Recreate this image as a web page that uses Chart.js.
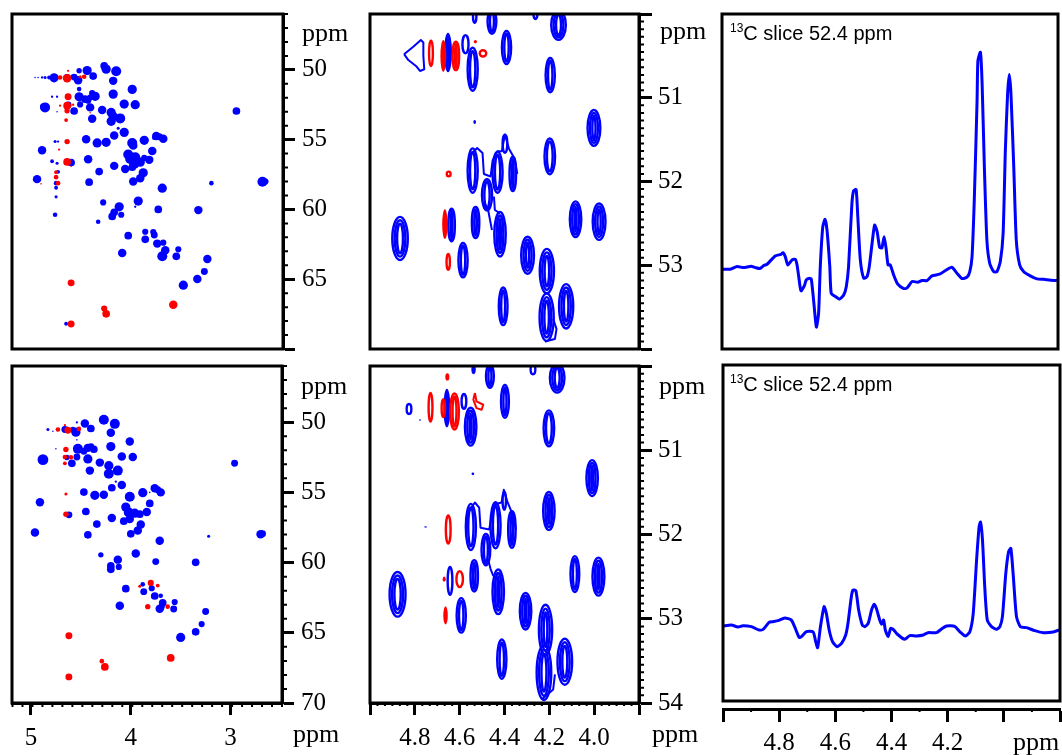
<!DOCTYPE html>
<html>
<head>
<meta charset="utf-8">
<script src="https://cdn.jsdelivr.net/npm/chart.js@4"></script>
<style>
  html, body { margin: 0; background: #fff; width: 1062px; height: 755px; overflow: hidden; }
  canvas { position: absolute; left: 0; top: 0; }
  .ppm { position: absolute; font: 26px/26px "Liberation Serif", serif; color: #000; }
  .slice { position: absolute; font: 20px/24px "Liberation Sans", sans-serif; color: #000; white-space: nowrap; }
  .slice sup { font-size: 12px; line-height: 0; vertical-align: 8px; }
</style>
</head>
<body>
<canvas id="topLeft" width="1062" height="755"></canvas>
<canvas id="topMid" width="1062" height="755"></canvas>
<canvas id="topRight" width="1062" height="755"></canvas>
<canvas id="botLeft" width="1062" height="755"></canvas>
<canvas id="botMid" width="1062" height="755"></canvas>
<canvas id="botRight" width="1062" height="755"></canvas>

<div class="ppm" style="left:302px;top:20px">ppm</div>
<div class="ppm" style="left:660px;top:18px">ppm</div>
<div class="ppm" style="left:301px;top:373px">ppm</div>
<div class="ppm" style="left:659px;top:373px">ppm</div>
<div class="ppm" style="left:293px;top:721px">ppm</div>
<div class="ppm" style="left:652px;top:721px">ppm</div>
<div class="ppm" style="left:1013px;top:729px">ppm</div>
<div class="slice" style="left:730px;top:21px"><sup>13</sup>C slice 52.4 ppm</div>
<div class="slice" style="left:730px;top:372px"><sup>13</sup>C slice 52.4 ppm</div>

<script>
// ================================
// DATA (ppm values)
// ================================

// full spectrum peaks: [1H ppm, 13C ppm, level]
const topBlue = [[4.27,49.71,10],[4.25,49.95,12],[4.15,50.10,13],[4.44,50.05,12],[4.52,50.07,7],[4.38,50.45,10],[4.57,50.52,9],[4.53,50.74,11],[4.18,50.79,11],[3.99,51.40,12],[4.18,51.74,12],[4.77,50.57,12],[4.82,50.55,5],[4.86,50.55,4],[4.89,50.55,3],[4.93,50.55,2],[4.96,50.55,2],[4.64,50.57,10],[4.52,51.38,6],[4.52,51.93,12],[4.46,52.10,10],[4.41,51.98,8],[4.36,51.90,12],[4.39,51.67,8],[4.43,52.21,8],[4.51,52.48,8],[4.41,52.69,11],[4.63,52.52,9],[4.57,52.95,10],[4.07,52.45,12],[3.96,52.50,12],[4.86,52.69,13],[4.88,52.64,8],[4.29,52.88,11],[4.20,53.05,12],[4.18,53.33,12],[4.11,53.48,13],[4.20,53.69,12],[4.39,53.50,11],[4.79,51.93,3],[4.74,51.93,3],[4.74,53.0,2],[4.13,54.19,4],[4.07,54.48,12],[4.17,54.71,11],[2.95,52.95,10],[4.45,54.98,11],[4.34,55.24,12],[4.25,55.19,12],[3.99,55.24,13],[3.98,55.43,11],[3.87,55.05,12],[3.75,54.74,11],[3.72,54.79,9],[3.68,54.93,11],[3.77,54.86,6],[4.76,55.14,4],[4.73,55.14,3],[4.89,55.76,11],[3.79,55.81,11],[4.03,56.07,13],[4.01,56.38,13],[3.96,56.26,13],[3.91,56.62,12],[3.82,56.45,11],[3.97,56.74,13],[4.06,57.10,11],[3.99,56.98,10],[3.87,56.31,8],[4.43,56.40,11],[4.17,56.88,11],[4.60,56.64,10],[4.79,56.55,5],[4.74,56.69,4],[4.32,57.29,10],[3.88,57.38,12],[3.91,57.76,11],[4.73,57.31,5],[4.94,57.83,11],[4.42,58.05,10],[3.98,58.0,11],[2.69,58.02,13],[2.66,58.0,8],[3.20,58.12,6],[4.75,58.12,6],[4.75,58.45,5],[3.69,58.48,12],[4.75,59.10,4],[4.28,59.5,8],[3.93,59.40,12],[3.96,59.81,3],[4.12,59.81,12],[3.73,60.0,10],[3.33,60.05,11],[4.17,60.21,10],[4.10,60.38,8],[4.19,60.5,10],[4.76,60.38,6],[4.33,60.88,6],[3.86,61.6,8],[3.78,61.62,8],[3.77,61.83,9],[4.03,61.88,10],[3.86,62.14,10],[3.74,62.45,11],[3.68,62.38,8],[3.66,62.93,11],[3.53,62.86,8],[4.09,63.12,11],[3.69,63.36,13],[3.55,63.36,10],[3.24,63.55,11],[3.27,64.45,9],[3.34,64.98,11],[3.48,65.43,12],[4.65,68.19,5]];
const topRed = [[4.60,65.26,9],[3.58,66.83,11],[4.27,67.10,8],[4.25,67.48,10],[4.60,68.21,9],[4.63,50.07,3],[4.71,50.55,6],[4.64,50.6,11],[4.47,50.5,6],[4.51,50.5,4],[4.63,51.93,9],[4.64,52.57,10],[4.64,52.93,7],[4.71,52.57,3],[4.58,52.5,3],[4.65,53.6,5],[4.64,55.14,7],[4.72,55.71,3],[4.64,56.6,10],[4.60,56.9,2],[4.75,57.33,5],[4.75,57.69,6],[4.73,58.12,6],[4.90,58.17,2],[4.41,53.07,2]];
const botBlue = [[4.27,49.83,13],[4.16,50.12,13],[4.46,50.10,11],[4.40,50.45,10],[4.54,50.02,3],[4.83,50.52,4],[4.78,50.64,2],[4.66,50.52,9],[4.58,50.52,7],[4.55,50.71,12],[4.20,50.76,11],[4.01,51.38,11],[4.20,51.74,12],[4.54,51.26,2],[4.53,51.90,13],[4.47,52.07,9],[4.43,51.83,11],[4.40,51.74,9],[4.37,51.93,10],[4.54,52.48,9],[4.43,52.62,12],[4.64,52.52,7],[4.59,52.93,10],[4.09,52.45,11],[3.98,52.48,11],[4.88,52.67,14],[4.75,51.90,2],[4.31,52.88,11],[4.22,53.10,12],[4.41,53.45,11],[4.13,53.45,13],[4.22,53.67,13],[4.15,54.24,3],[4.09,54.48,11],[4.19,54.67,10],[2.96,52.93,9],[4.47,54.98,10],[4.36,55.21,12],[4.27,55.17,11],[4.01,55.31,13],[3.88,55.02,12],[3.76,54.71,11],[3.73,54.81,9],[3.70,55.0,11],[3.81,55.0,2],[4.91,55.71,11],[3.81,55.79,10],[4.05,56.05,12],[4.02,56.43,13],[3.96,56.48,12],[3.91,56.55,10],[3.84,56.40,11],[4.01,56.9,11],[4.07,57.05,10],[4.45,56.36,10],[4.19,56.83,11],[4.62,56.60,9],[4.34,57.26,10],[3.90,57.29,11],[3.93,57.71,11],[4.96,57.86,11],[4.43,58.02,10],[4.0,57.95,10],[2.70,57.98,11],[2.68,57.95,9],[3.22,58.12,4],[3.71,58.45,11],[4.30,59.45,7],[3.95,59.36,11],[4.13,59.79,11],[3.75,59.93,9],[3.35,59.98,10],[4.20,60.24,10],[4.20,60.48,10],[4.12,60.31,8],[3.88,61.55,6],[3.79,61.83,8],[4.05,61.86,10],[3.87,62.07,9],[3.76,62.38,10],[3.70,62.36,6],[3.68,62.86,10],[3.56,62.81,8],[4.11,63.07,11],[3.71,63.29,11],[3.69,63.14,8],[3.57,63.31,9],[3.25,63.48,9],[3.29,64.38,8],[3.35,64.93,10],[3.50,65.33,12]];
const botRed = [[4.62,65.21,9],[3.60,66.79,10],[4.29,67.02,6],[4.26,67.43,10],[4.62,68.14,9],[4.66,50.21,3],[4.73,50.52,6],[4.63,50.57,9],[4.52,50.48,6],[4.65,51.95,7],[4.66,52.48,6],[4.60,52.5,6],[4.66,52.93,5],[4.65,55.12,4],[4.65,56.55,7],[3.80,61.45,8],[3.91,61.69,4],[3.73,61.64,5],[3.83,63.14,7],[3.63,63.14,6]];

// zoomed contours: [1H ppm, 13C ppm, half width ppm, half height ppm, rings (0 = solid)]
const zoomTopBlue = [[4.533,50.03,.012,.087,2],[4.456,50.09,.024,.158,3],[4.262,50.0,.013,.071,2],[4.159,50.13,.037,.19,4],[4.391,50.40,.025,.21,3],[4.652,50.46,.018,.237,0],[4.574,50.36,.018,.12,1],[4.542,50.66,.027,.269,3],[4.196,50.73,.025,.217,3],[4.001,51.36,.033,.225,3],[4.533,51.29,.006,.024,0],[4.198,51.70,.028,.225,4],[4.542,51.87,.027,.277,4],[4.431,51.89,.027,.257,3],[4.363,51.91,.019,.217,3],[4.478,52.16,.027,.198,3],[4.398,51.55,.015,.12,2],[4.083,52.45,.03,.225,3],[3.978,52.48,.033,.229,4],[4.636,52.52,.019,.206,3],[4.529,52.49,.021,.198,2],[4.866,52.68,.039,.269,4],[4.420,52.63,.03,.277,3],[4.585,52.94,.025,.217,2],[4.297,52.88,.033,.233,4],[4.211,53.07,.036,.277,4],[4.406,53.49,.024,.237,4],[4.125,53.49,.036,.277,5],[4.212,53.62,.036,.296,7]];
const zoomTopRed = [[4.728,50.47,.013,.166,3],[4.673,50.50,.013,.19,0],[4.617,50.50,.019,.182,3],[4.496,50.47,.019,.05,1],[4.530,50.33,.007,.02,0],[4.649,51.91,.013,.04,1],[4.666,52.51,.012,.178,0],[4.651,52.96,.012,.107,1]];
const zoomBotBlue = [[4.538,50.04,.009,.055,2],[4.465,50.12,.022,.15,3],[4.273,50.04,.015,.071,2],[4.165,50.14,.037,.186,4],[4.398,50.42,.022,.206,3],[4.657,50.50,.016,.229,0],[4.826,50.51,.015,.071,1],[4.581,50.42,.015,.099,1],[4.551,50.72,.03,.237,4],[4.202,50.74,.028,.225,3],[4.009,51.33,.03,.225,3],[4.541,51.28,.006,.016,0],[4.777,50.64,.003,.012,0],[4.752,51.91,.006,.008,0],[4.202,51.72,.03,.237,4],[4.550,51.91,.027,.285,4],[4.440,51.89,.027,.285,4],[4.367,51.94,.021,.229,3],[4.483,52.18,.024,.198,3],[4.401,51.60,.012,.119,2],[4.086,52.47,.024,.225,3],[3.981,52.50,.031,.237,4],[4.643,52.55,.015,.178,3],[4.535,52.49,.021,.198,3],[4.877,52.71,.04,.277,6],[4.428,52.68,.03,.277,3],[4.593,52.96,.025,.217,3],[4.306,52.91,.03,.229,3],[4.217,53.13,.034,.308,4],[4.412,53.48,.025,.245,3],[4.131,53.51,.037,.285,5],[4.224,53.64,.037,.336,7]];
const zoomBotRed = [[4.730,50.49,.013,.182,3],[4.673,50.50,.012,.119,2],[4.623,50.54,.024,.225,3],[4.655,50.13,.009,.043,0],[4.651,51.94,.015,.178,1],[4.600,52.53,.019,.107,1],[4.669,52.53,.007,.032,0],[4.663,52.96,.01,.107,0]];

// low level contour outlines: [1H ppm, 13C ppm]
const outlineTopA = [[4.848,50.48],[4.807,50.39],[4.773,50.31],[4.762,50.34],[4.762,50.50],[4.758,50.66],[4.777,50.68],[4.795,50.62],[4.829,50.55],[4.848,50.48]];
const outlineTopB = [[4.562,51.79],[4.551,51.68],[4.522,51.60],[4.498,51.66],[4.492,51.91],[4.462,51.94],[4.453,51.75],[4.432,51.64],[4.412,51.64],[4.398,51.44],[4.380,51.61],[4.354,51.73],[4.343,51.91]];
const outlineTopC = [[4.492,52.24],[4.473,52.34],[4.456,52.58]];
const outlineTopD = [[4.447,52.18],[4.443,52.34],[4.42,52.38]];
const outlineTopE = [[4.22,53.91],[4.175,53.88],[4.168,53.76],[4.183,53.64]];
const outlineBotB = [[4.572,51.94],[4.562,51.74],[4.532,51.62],[4.513,51.68],[4.507,51.92],[4.468,51.94],[4.458,51.78],[4.443,51.64],[4.413,51.62],[4.403,51.47],[4.386,51.62],[4.361,51.78],[4.349,51.94]];
const outlineBotC = [[4.473,52.30],[4.462,52.41],[4.45,52.49]];
const outlineBotE = [[4.235,53.96],[4.183,53.84],[4.175,53.66]];
const outlineBotRed = [[4.532,50.32],[4.525,50.42],[4.495,50.46],[4.502,50.52],[4.525,50.50],[4.539,50.40],[4.532,50.32]];

// 13C slices: [1H ppm, intensity]
const sliceTop = [[5.000,240],[4.970,240],[4.946,248],[4.923,245],[4.896,249],[4.881,245],[4.865,242],[4.851,251],[4.839,255],[4.810,280],[4.789,285],[4.782,290],[4.774,278],[4.765,253],[4.750,268],[4.738,270],[4.732,253],[4.726,218],[4.718,175],[4.706,190],[4.699,208],[4.687,213],[4.681,210],[4.673,148],[4.663,66],[4.655,108],[4.649,248],[4.640,368],[4.632,390],[4.625,358],[4.615,248],[4.610,168],[4.595,158],[4.580,150],[4.565,163],[4.556,188],[4.548,248],[4.536,438],[4.530,476],[4.521,480],[4.515,398],[4.506,268],[4.494,213],[4.482,218],[4.474,248],[4.464,318],[4.455,373],[4.446,353],[4.437,306],[4.429,304],[4.421,338],[4.414,303],[4.407,253],[4.399,253],[4.387,223],[4.373,196],[4.351,182],[4.339,184],[4.321,203],[4.301,201],[4.286,206],[4.268,206],[4.250,220],[4.223,225],[4.202,236],[4.179,246],[4.161,228],[4.143,212],[4.125,216],[4.115,233],[4.107,278],[4.099,448],[4.089,748],[4.086,868],[4.077,893],[4.071,798],[4.063,548],[4.054,328],[4.044,258],[4.030,233],[4.018,233],[4.006,263],[3.996,348],[3.988,598],[3.980,768],[3.974,826],[3.968,768],[3.958,548],[3.949,328],[3.937,253],[3.923,233],[3.899,220],[3.875,211],[3.851,210],[3.827,207],[3.804,206]];
const sliceBot = [[5.000,225],[4.970,228],[4.947,222],[4.929,226],[4.899,223],[4.872,213],[4.857,215],[4.836,236],[4.822,238],[4.804,241],[4.780,249],[4.757,243],[4.745,223],[4.729,191],[4.721,193],[4.703,208],[4.679,207],[4.670,178],[4.663,160],[4.653,223],[4.640,283],[4.632,263],[4.622,213],[4.610,178],[4.594,163],[4.578,173],[4.563,198],[4.555,233],[4.543,313],[4.537,333],[4.527,331],[4.517,273],[4.504,228],[4.495,223],[4.483,233],[4.471,273],[4.462,290],[4.454,278],[4.442,243],[4.435,230],[4.428,243],[4.422,213],[4.412,193],[4.403,218],[4.394,215],[4.380,201],[4.353,185],[4.335,196],[4.311,195],[4.287,198],[4.270,205],[4.240,205],[4.222,216],[4.204,225],[4.175,224],[4.157,208],[4.137,195],[4.121,208],[4.109,263],[4.097,423],[4.088,523],[4.083,537],[4.076,483],[4.068,343],[4.059,243],[4.044,223],[4.026,215],[4.014,223],[4.005,253],[3.993,383],[3.983,448],[3.975,458],[3.967,383],[3.955,253],[3.941,223],[3.919,220],[3.890,211],[3.860,205],[3.824,207],[3.803,213]];

// tick labels that are printed
const leftTopLabels = ["50","55","60","65"];
const leftBotLabels = ["50","55","60","65","70"];
const leftXLabels = ["5","4","3"];
const midTopLabels = ["51","52","53"];
const midBotLabels = ["51","52","53","54"];
const midXLabels = ["4.8","4.6","4.4","4.2","4.0"];
const sliceXLabels = ["4.8","4.6","4.4","4.2"];

const BLUE = "#0000ff";
const RED = "#ff0000";
const PAGE_W = 1062;
const PAGE_H = 755;

// ================================
// PLUGINS
// ================================

// draws the contour rings of every dataset flagged as contour
const contourPlugin = {
    id: "contours",
    afterDatasetDraw(chart, args) {
        const ds = chart.data.datasets[args.index];
        if (!ds.contour) return;
        const { ctx, chartArea, scales } = chart;
        ctx.save();
        ctx.beginPath();
        ctx.rect(chartArea.left, chartArea.top, chartArea.right - chartArea.left, chartArea.bottom - chartArea.top);
        ctx.clip();
        ctx.strokeStyle = ds.borderColor;
        ctx.fillStyle = ds.borderColor;
        ctx.lineWidth = 2.4;
        ds.data.forEach(p => {
            const px = scales.x.getPixelForValue(p.x);
            const py = scales.y.getPixelForValue(p.y);
            const rx = Math.abs(scales.x.getPixelForValue(p.x + p.w) - px);
            const ry = Math.abs(scales.y.getPixelForValue(p.y + p.h) - py);
            if (p.rings === 0) {
                ctx.beginPath();
                ctx.ellipse(px, py, rx, ry, 0, 0, Math.PI * 2);
                ctx.fill();
                return;
            }
            for (let k = 0; k < p.rings; k++) {
                const a = rx - k * 2.4 - 1;
                const b = ry * (1 - k * 0.15) - 1;
                if (a < 0.8 || b < 1) break;
                ctx.beginPath();
                ctx.ellipse(px, py, a, b, 0, 0, Math.PI * 2);
                ctx.stroke();
            }
        });
        ctx.restore();
    }
};

// black box round the plot + the short minor ticks
const framePlugin = {
    id: "frame",
    afterDraw(chart, args, opts) {
        const { ctx, chartArea, scales } = chart;
        const bottom = opts.bottomValue !== undefined ? scales.y.getPixelForValue(opts.bottomValue) : chartArea.bottom;
        ctx.save();
        ctx.strokeStyle = "#000";
        ctx.lineWidth = 3;
        ctx.strokeRect(chartArea.left, chartArea.top, chartArea.right - chartArea.left, bottom - chartArea.top);
        ctx.lineWidth = 2;
        ctx.beginPath();
        if (opts.yStep) {
            for (let v = scales.y.min; v <= scales.y.max + 1e-6; v += opts.yStep) {
                const py = scales.y.getPixelForValue(v);
                ctx.moveTo(chartArea.right, py);
                ctx.lineTo(chartArea.right + opts.yLen, py);
            }
        }
        if (opts.xStep) {
            for (let v = scales.x.min; v <= scales.x.max + 1e-6; v += opts.xStep) {
                const px = scales.x.getPixelForValue(v);
                ctx.moveTo(px, chartArea.bottom);
                ctx.lineTo(px, chartArea.bottom + opts.xLen);
            }
        }
        ctx.stroke();
        ctx.restore();
    }
};

Chart.register(contourPlugin, framePlugin);

// ================================
// DATASET HELPERS
// ================================
function dotSet(list, color) {
    return {
        data: list.map(p => ({ x: p[0], y: p[1], level: p[2] })),
        backgroundColor: color,
        borderWidth: 0,
        pointRadius: c => c.raw.level / 2.6,
        showLine: false
    };
}

function contourSet(list, color) {
    return {
        contour: true,
        data: list.map(p => ({ x: p[0], y: p[1], w: p[2], h: p[3], rings: p[4] })),
        borderColor: color,
        pointRadius: 0,
        showLine: false
    };
}

function lineSet(list, color, width, tension) {
    return {
        data: list.map(p => ({ x: p[0], y: p[1] })),
        borderColor: color,
        borderWidth: width,
        borderJoinStyle: "round",
        pointRadius: 0,
        showLine: true,
        tension: tension || 0
    };
}

// ================================
// AXIS HELPERS
// ================================
function axisOptions(position, min, max, step, size, tickLen, labels, pad, digits) {
    return {
        type: "linear",
        position: position,
        min: min,
        max: max,
        reverse: true,
        afterFit: scale => {
            if (scale.isHorizontal()) scale.height = size;
            else scale.width = size;
            // no extra room for the first and last label, the box must stay where it is
            scale.paddingTop = 0;
            scale.paddingBottom = 0;
            scale.paddingLeft = 0;
            scale.paddingRight = 0;
        },
        border: { display: true, color: "#000", width: 3 },
        grid: { drawOnChartArea: false, drawTicks: true, tickLength: tickLen, tickColor: "#000", tickWidth: 3 },
        ticks: {
            stepSize: step,
            includeBounds: false,
            autoSkip: false,
            maxRotation: 0,
            padding: pad,
            color: "#000",
            font: { family: "'Liberation Serif', serif", size: 25 },
            callback: v => {
                const s = v.toFixed(digits);
                return labels.includes(s) ? s : "";
            }
        }
    };
}

function hiddenAxis(min, max, reverse) {
    return { type: "linear", display: false, min: min, max: max, reverse: reverse };
}

function makePanel(id, box, axisRight, axisBottom, datasets, x, y, frame) {
    new Chart(document.getElementById(id), {
        type: "scatter",
        data: { datasets: datasets },
        options: {
            responsive: false,
            animation: false,
            events: [],
            layout: {
                padding: {
                    left: box[0],
                    top: box[1],
                    right: PAGE_W - box[2] - axisRight,
                    bottom: PAGE_H - box[3] - axisBottom
                }
            },
            scales: { x: x, y: y },
            plugins: { legend: { display: false }, tooltip: { enabled: false }, frame: frame }
        }
    });
}

// ================================
// PANELS
// ================================
makePanel("topLeft", [12, 14, 283, 349], 60, 0,
    [dotSet(topRed, RED), dotSet(topBlue, BLUE)],
    hiddenAxis(2.485, 5.19, true),
    axisOptions("right", 46, 70, 5, 60, 12, leftTopLabels, 7, 0),
    { yStep: 1, yLen: 5 });

makePanel("botLeft", [12, 366, 282, 703], 60, 48,
    [dotSet(botRed, RED), dotSet(botBlue, BLUE)],
    axisOptions("bottom", 2.485, 5.19, 1, 48, 12, leftXLabels, 8, 0),
    axisOptions("right", 46, 70, 5, 60, 12, leftBotLabels, 7, 0),
    { yStep: 1, yLen: 5, xStep: 0.1, xLen: 4 });

makePanel("topMid", [370, 14, 639, 349], 60, 0,
    [contourSet(zoomTopRed, RED), contourSet(zoomTopBlue, BLUE),
     lineSet(outlineTopA, BLUE, 2), lineSet(outlineTopB, BLUE, 2), lineSet(outlineTopC, BLUE, 2),
     lineSet(outlineTopD, BLUE, 2), lineSet(outlineTopE, BLUE, 2)],
    hiddenAxis(3.8, 5.0, true),
    axisOptions("right", 50, 54, 1, 60, 13, midTopLabels, 6, 0),
    { yStep: 1 / 11, yLen: 5 });

makePanel("botMid", [370, 366, 639, 703], 60, 48,
    [contourSet(zoomBotRed, RED), lineSet(outlineBotRed, RED, 2), contourSet(zoomBotBlue, BLUE),
     lineSet(outlineBotB, BLUE, 2), lineSet(outlineBotC, BLUE, 2), lineSet(outlineBotE, BLUE, 2)],
    axisOptions("bottom", 3.8, 5.0, 0.2, 48, 12, midXLabels, 8, 1),
    axisOptions("right", 50, 54, 1, 60, 13, midBotLabels, 6, 0),
    { yStep: 1 / 11, yLen: 5, xStep: 0.2 / 6, xLen: 3 });

makePanel("topRight", [722, 14, 1058, 349], 0, 0,
    [lineSet(sliceTop, BLUE, 3, 0.2)],
    hiddenAxis(3.8, 5.0, true),
    hiddenAxis(0, 1008, false),
    {});

makePanel("botRight", [723, 365, 1060, 709], 0, 46,
    [lineSet(sliceBot, BLUE, 3, 0.2)],
    axisOptions("bottom", 3.8, 5.0, 0.2, 46, 13, sliceXLabels, 6, 1),
    hiddenAxis(-24, 1008, false),
    { bottomValue: 0, xStep: 0.1, xLen: 3 });
</script>
</body>
</html>
